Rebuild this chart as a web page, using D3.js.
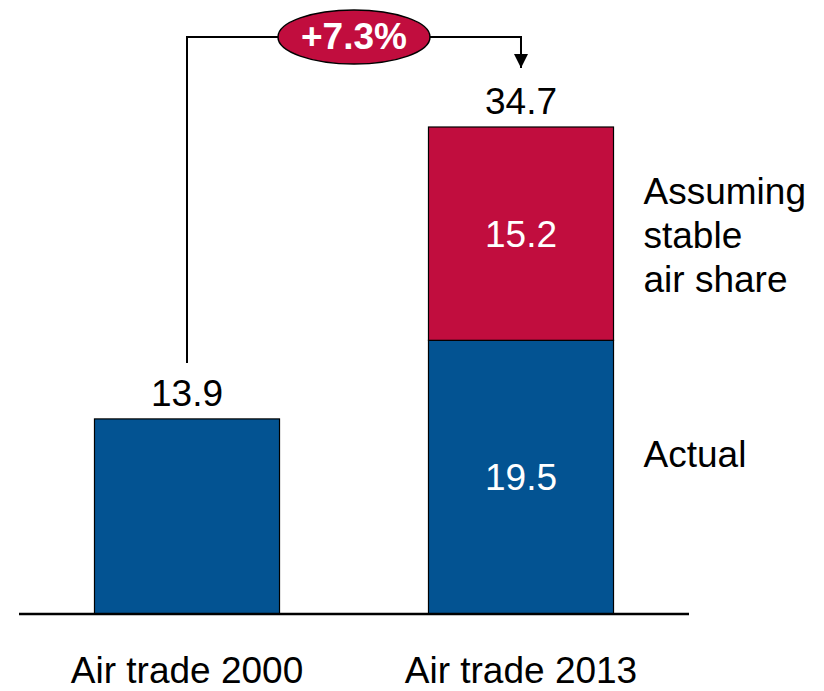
<!DOCTYPE html>
<html>
<head>
<meta charset="utf-8">
<script src="https://cdn.jsdelivr.net/npm/d3@7"></script>
<style>
  html, body { margin: 0; padding: 0; background: #fff; }
  svg { display: block; font-family: Arial, "Liberation Sans", sans-serif; }
</style>
</head>
<body>
<svg id="chart" width="824" height="691"></svg>
<script>
// Air trade volumes, 2000 vs 2013
const categories = ["Air trade 2000", "Air trade 2013"];
const actual = [13.9, 19.5];
const stableShare = [0, 15.2];
const totals = [13.9, 34.7];
const seriesNames = ["Actual", ["Assuming", "stable", "air share"]];
const growthLabel = "+7.3%";

const colors = { actual: "#035392", stable: "#C10D3E" };
const fontSize = 37;

const svg = d3.select("#chart");

const x = d3.scaleBand()
  .domain(categories)
  .range([19, 689])
  .paddingInner(0.446)
  .paddingOuter(0.226);

const y = d3.scaleLinear()
  .domain([0, d3.max(totals)])
  .range([614, 127]);

// Stacked segments
const rows = categories.map((c, i) => ({ cat: c, actual: actual[i], stable: stableShare[i] }));
const stack = d3.stack().keys(["actual", "stable"])(rows);

stack.forEach(layer => {
  svg.append("g").selectAll("rect")
    .data(layer.filter(d => d[1] - d[0] > 0))
    .join("rect")
    .attr("x", d => x(d.data.cat))
    .attr("y", d => y(d[1]))
    .attr("width", x.bandwidth())
    .attr("height", d => y(d[0]) - y(d[1]))
    .attr("fill", colors[layer.key])
    .attr("stroke", "#000")
    .attr("stroke-width", 1.2);
});

// Values inside the 2013 segments
stack.forEach(layer => {
  svg.append("g").selectAll("text")
    .data(layer.filter(d => d[1] - d[0] > 0 && d.data.stable > 0))
    .join("text")
    .attr("x", d => x(d.data.cat) + x.bandwidth() / 2)
    .attr("y", d => (y(d[0]) + y(d[1])) / 2 + 13)
    .attr("text-anchor", "middle")
    .attr("font-size", fontSize)
    .attr("fill", "#fff")
    .text(d => (d[1] - d[0]).toFixed(1));
});

// Totals above bars
svg.append("g").selectAll("text")
  .data(categories.map((c, i) => ({ cat: c, v: totals[i] })))
  .join("text")
  .attr("x", d => x(d.cat) + x.bandwidth() / 2)
  .attr("y", d => y(d.v) - 13)
  .attr("text-anchor", "middle")
  .attr("font-size", fontSize)
  .attr("fill", "#000")
  .text(d => d.v.toFixed(1));

// Baseline
svg.append("line")
  .attr("x1", 19).attr("x2", 689)
  .attr("y1", y(0)).attr("y2", y(0))
  .attr("stroke", "#000").attr("stroke-width", 2.5);

// Category labels
svg.append("g").selectAll("text")
  .data(categories)
  .join("text")
  .attr("x", d => x(d) + x.bandwidth() / 2)
  .attr("y", 683)
  .attr("text-anchor", "middle")
  .attr("font-size", fontSize)
  .attr("fill", "#000")
  .text(d => d);

// Series labels to the right of the 2013 bar
const lastCat = categories[1];
const labelX = x(lastCat) + x.bandwidth() + 30;
const redMid = (y(actual[1]) + y(totals[1])) / 2;
svg.append("text")
  .attr("x", labelX)
  .attr("y", redMid - 30)
  .attr("font-size", fontSize)
  .attr("fill", "#000")
  .selectAll("tspan")
  .data(seriesNames[1])
  .join("tspan")
  .attr("x", labelX)
  .attr("dy", (d, i) => i === 0 ? 0 : 44)
  .text(d => d);

const blueMid = (y(0) + y(actual[1])) / 2;
svg.append("text")
  .attr("x", labelX)
  .attr("y", blueMid - 10)
  .attr("font-size", fontSize)
  .attr("fill", "#000")
  .text(seriesNames[0]);

// Growth bracket with arrow
const x0 = x(categories[0]) + x.bandwidth() / 2;
const x1 = x(categories[1]) + x.bandwidth() / 2;
const topY = 37;
svg.append("defs").append("marker")
  .attr("id", "arrow")
  .attr("viewBox", "0 0 10 10")
  .attr("refX", 10).attr("refY", 5)
  .attr("markerWidth", 7).attr("markerHeight", 7)
  .attr("markerUnits", "strokeWidth")
  .attr("orient", "auto")
  .append("path")
  .attr("d", "M0,0 L10,5 L0,10 Z")
  .attr("fill", "#000");

svg.append("path")
  .attr("d", d3.line()([[x0, y(totals[0]) - 56], [x0, topY], [x1, topY], [x1, y(totals[1]) - 59]]))
  .attr("fill", "none")
  .attr("stroke", "#000")
  .attr("stroke-width", 2)
  .attr("marker-end", "url(#arrow)");

const cx = (x0 + x1) / 2;
svg.append("ellipse")
  .attr("cx", cx).attr("cy", topY)
  .attr("rx", 76).attr("ry", 27)
  .attr("fill", colors.stable)
  .attr("stroke", "#000")
  .attr("stroke-width", 1.5);

svg.append("text")
  .attr("x", cx).attr("y", topY + 12)
  .attr("text-anchor", "middle")
  .attr("font-size", fontSize)
  .attr("font-weight", "bold")
  .attr("fill", "#fff")
  .text(growthLabel);
</script>
</body>
</html>
